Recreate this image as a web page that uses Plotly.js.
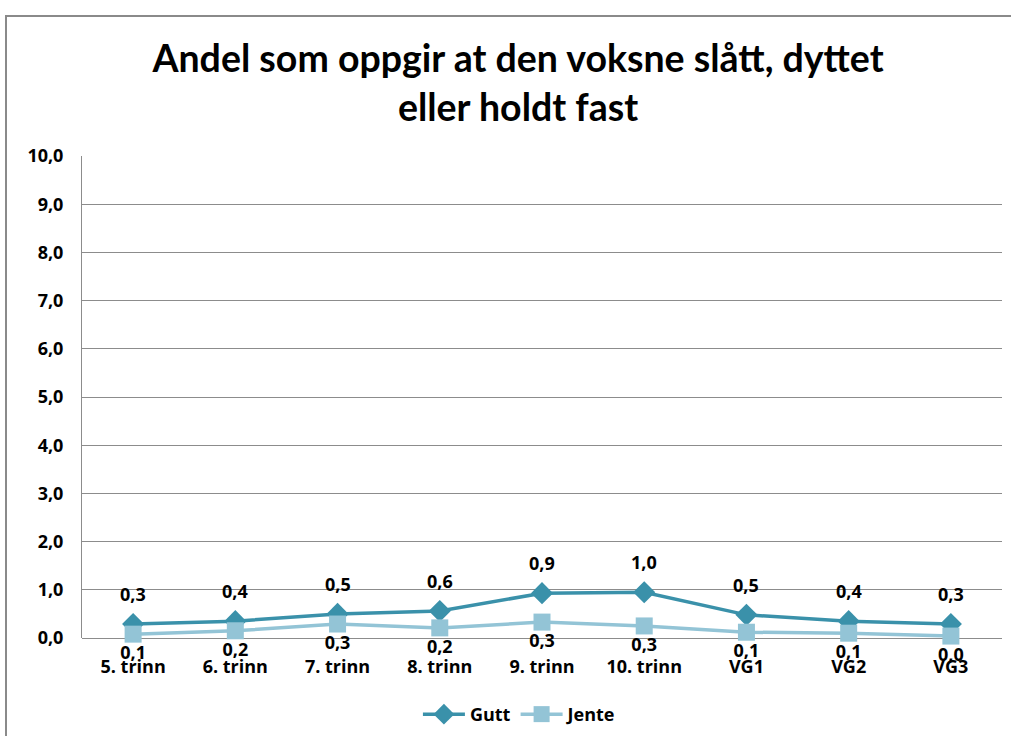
<!DOCTYPE html>
<html>
<head>
<meta charset="utf-8">
<script src="https://cdn.plot.ly/plotly-3.0.1.min.js"></script>
<style>
  body { margin: 0; background: #fff; }
  #chart {
    position: absolute; left: 5px; top: 15px;
    width: 1006px; height: 719px;
    border-left: 2px solid #8a8a8a; border-top: 2px solid #8a8a8a;
  }
</style>
</head>
<body>
<div id="chart"></div>
<script>
const trinn = ['5. trinn', '6. trinn', '7. trinn', '8. trinn', '9. trinn', '10. trinn', 'VG1', 'VG2', 'VG3'];

const gutt = [0.29, 0.35, 0.5, 0.56, 0.93, 0.95, 0.48, 0.35, 0.29];
const guttText = ['0,3', '0,4', '0,5', '0,6', '0,9', '1,0', '0,5', '0,4', '0,3'];

const jente = [0.08, 0.15, 0.29, 0.21, 0.33, 0.25, 0.12, 0.1, 0.04];
const jenteText = ['0,1', '0,2', '0,3', '0,2', '0,3', '0,3', '0,1', '0,1', '0,0'];

const fam = '"Open Sans", Lato, sans-serif';
const labelFont = {family: fam, size: 18, color: '#000', weight: 'bold'};

const traceGutt = {
  type: 'scatter',
  mode: 'lines+markers',
  name: 'Gutt',
  x: trinn,
  y: gutt,
  line: {color: '#3a91aa', width: 3.5},
  marker: {symbol: 'diamond', size: 17, color: '#3a91aa'},
  cliponaxis: false
};

const traceJente = {
  type: 'scatter',
  mode: 'lines+markers+text',
  name: 'Jente',
  x: trinn,
  y: jente,
  text: jenteText,
  textposition: 'bottom center',
  textfont: labelFont,
  line: {color: '#93c4d6', width: 3.5},
  marker: {symbol: 'square', size: 17, color: '#93c4d6'},
  cliponaxis: false
};

// Gutt labels sit further above the points than the default text offset
const guttLabels = trinn.map((c, i) => ({
  x: c, y: gutt[i], xref: 'x', yref: 'y',
  text: guttText[i], showarrow: false,
  yshift: 30, yanchor: 'middle',
  font: labelFont
}));

const layout = {
  width: 1006,
  height: 719,
  margin: {l: 75, r: 11, t: 139, b: 98},
  separators: ',.',
  font: {family: fam, color: '#000'},
  showlegend: true,
  title: {
    text: 'Andel som oppgir at den voksne slått, dyttet<br>eller holdt fast',
    font: {family: 'Lato, sans-serif', size: 37.5, weight: 'bold', color: '#000'},
    xref: 'container', x: 0.508,
    yref: 'container', y: 0.923, yanchor: 'middle'
  },
  xaxis: {
    type: 'category',
    range: [-0.5, 8.5],
    automargin: false,
    showgrid: false,
    showline: false,
    ticks: '',
    ticklabelstandoff: 16,
    tickfont: {size: 18, weight: 'bold'},
    fixedrange: true
  },
  yaxis: {
    range: [0, 10],
    dtick: 1,
    tickformat: '.1f',
    automargin: false,
    showgrid: true,
    gridcolor: '#8c8c8c',
    gridwidth: 1,
    showline: true,
    linecolor: '#8c8c8c',
    linewidth: 1,
    zeroline: true,
    zerolinecolor: '#8c8c8c',
    zerolinewidth: 1,
    ticks: '',
    ticklabelstandoff: 14,
    tickfont: {size: 18, weight: 'bold'},
    fixedrange: true
  },
  annotations: guttLabels,
  legend: {
    orientation: 'h',
    x: 0.476, xanchor: 'center',
    yref: 'container',
    y: 0.03, yanchor: 'middle',
    itemwidth: 42,
    font: {size: 18, weight: 'bold'}
  },
  plot_bgcolor: '#fff',
  paper_bgcolor: '#fff'
};

Plotly.newPlot('chart', [traceGutt, traceJente], layout, {displayModeBar: false});
</script>
</body>
</html>
